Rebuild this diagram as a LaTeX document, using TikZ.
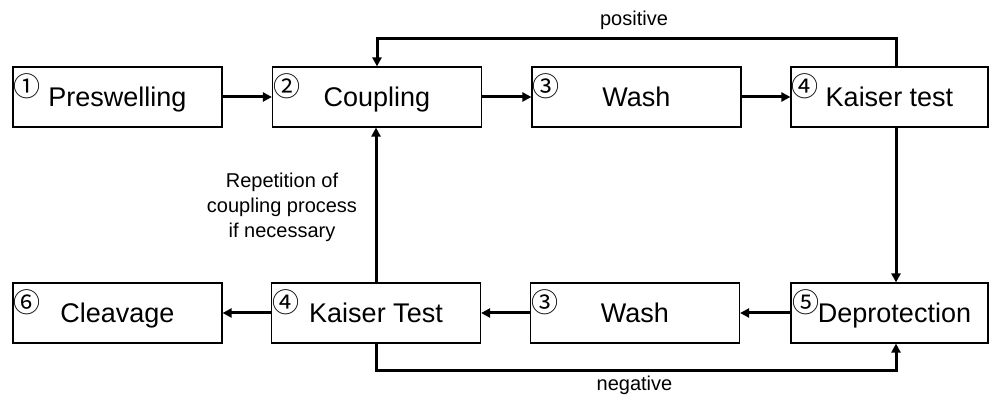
\documentclass[tikz,border=0pt]{standalone}
\usepackage{fontspec}
\setmainfont{Liberation Sans}
\newfontfamily\circfont{Noto Sans CJK JP}
\usetikzlibrary{arrows.meta}
\begin{document}
\begin{tikzpicture}[x=1pt,y=1pt,
  stepbox/.style={draw, line width=1.2pt, minimum width=209pt, minimum height=60pt, inner sep=0pt, text height=19.5pt, text depth=0pt, font=\fontsize{27}{30}\selectfont},
  numlbl/.style={anchor=center, inner sep=0pt, font=\circfont\fontsize{27}{27}\selectfont},
  conn/.style={line width=3pt, -{Triangle[length=9pt,width=9pt]}},
  lbl/.style={font=\fontsize{20}{25}\selectfont, align=center, inner sep=0pt}]
\useasboundingbox (0,0) rectangle (989,394);
% top row
\node[stepbox] (pre) at (117.5,297) {Preswelling};
\node[stepbox] (coup) at (377,297) {Coupling};
\node[stepbox] (wash1) at (636.5,297) {Wash};
\node[stepbox, minimum width=197pt] (kt1) at (889.5,297) {Kaiser test};
% bottom row
\node[stepbox] (clv) at (117.5,81) {Cleavage};
\node[stepbox] (kt2) at (376,81) {Kaiser Test};
\node[stepbox] (wash2) at (635,81) {Wash};
\node[stepbox, minimum width=197pt] (dep) at (889.5,81) {\hspace*{10pt}Deprotection};
% circled numbers
\node[numlbl] (n1) at ([shift={(15,-20)}]pre.north west) {①};
\node[numlbl] (n2) at ([shift={(15,-20)}]coup.north west) {②};
\node[numlbl] (n3) at ([shift={(15,-20)}]wash1.north west) {③};
\node[numlbl] (n4) at ([shift={(15,-20)}]kt1.north west) {④};
\node[numlbl] (n6) at ([shift={(15,-20)}]clv.north west) {⑥};
\node[numlbl] (n4b) at ([shift={(15,-20)}]kt2.north west) {④};
\node[numlbl] (n3b) at ([shift={(15,-20)}]wash2.north west) {③};
\node[numlbl] (n5) at ([shift={(16,-20)}]dep.north west) {⑤};
% connector helper coordinates
\coordinate (p1) at (896,355);
\coordinate (q1) at (896,23);
% connectors
\draw[conn] (pre.east) -- (coup.west);
\draw[conn] (coup.east) -- (wash1.west);
\draw[conn] (wash1.east) -- (kt1.west);
\draw[conn] (p1 |- kt1.north) -- (p1) -| (coup.north);
\draw[conn] (p1 |- kt1.south) -- (p1 |- dep.north);
\draw[conn] (dep.west) -- (wash2.east);
\draw[conn] (wash2.west) -- (kt2.east);
\draw[conn] (kt2.west) -- (clv.east);
\draw[conn] (kt2.north) -- (kt2.north |- coup.south);
\draw[conn] (kt2.south) |- (q1) -- (q1 |- dep.south);
% labels
\node[lbl] (pos) at (634,374) {positive};
\node[lbl] (neg) at (634.5,9) {negative};
\node[lbl] (rep) at (282,187) {Repetition of\\coupling process\\if necessary};
\end{tikzpicture}
\end{document}
